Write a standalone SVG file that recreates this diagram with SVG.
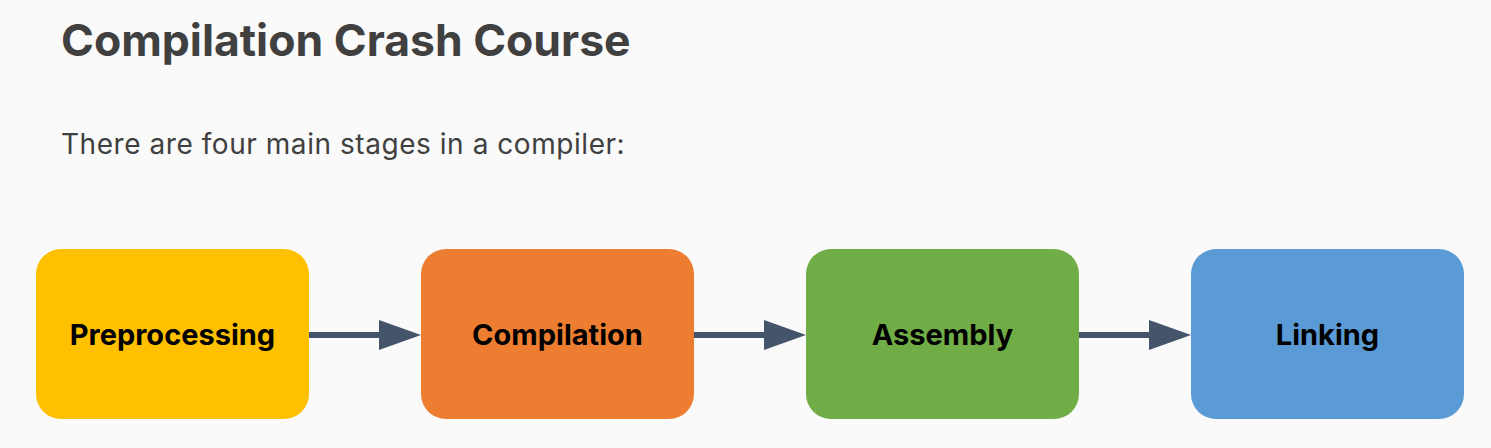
<svg xmlns="http://www.w3.org/2000/svg" width="1491" height="448" viewBox="0 0 1491 448">
<defs>
<style>
.title{font-family:Inter,"Liberation Sans",sans-serif;font-weight:700;font-size:44.5px;fill:#404040}
.sub{font-family:Inter,"Liberation Sans",sans-serif;font-weight:400;font-size:28px;letter-spacing:0.55px;fill:#404040}
.box{stroke:none}
.lbl{font-family:Inter,"Liberation Sans",sans-serif;font-weight:700;font-size:29px;fill:#000;text-anchor:middle}
.conn{stroke:#44546A;stroke-width:6;fill:none}
</style>
<marker id="ah" markerUnits="userSpaceOnUse" markerWidth="42" markerHeight="30" refX="0" refY="15" orient="auto" overflow="visible">
<path d="M0,0 L42,15 L0,30 Z" fill="#44546A"/>
</marker>
</defs>
<rect width="1491" height="448" fill="#FAFAFA"/>
<text class="title" x="61" y="56">Compilation Crash Course</text>
<text class="sub" x="61" y="154">There are four main stages in a compiler:</text>
<g id="connectors">
<line class="conn" x1="309" y1="335" x2="379" y2="335" marker-end="url(#ah)"/>
<line class="conn" x1="694" y1="335" x2="764" y2="335" marker-end="url(#ah)"/>
<line class="conn" x1="1079" y1="335" x2="1149" y2="335" marker-end="url(#ah)"/>
</g>
<g id="preprocessing">
<rect class="box" x="36" y="249" width="273" height="170" rx="25" fill="#FFC000"/>
<text class="lbl" x="172.5" y="345">Preprocessing</text>
</g>
<g id="compilation">
<rect class="box" x="421" y="249" width="273" height="170" rx="25" fill="#ED7D31"/>
<text class="lbl" x="557.5" y="345">Compilation</text>
</g>
<g id="assembly">
<rect class="box" x="806" y="249" width="273" height="170" rx="25" fill="#70AD47"/>
<text class="lbl" x="942.5" y="345">Assembly</text>
</g>
<g id="linking">
<rect class="box" x="1191" y="249" width="273" height="170" rx="25" fill="#5B9BD5"/>
<text class="lbl" x="1327.5" y="345">Linking</text>
</g>
</svg>
